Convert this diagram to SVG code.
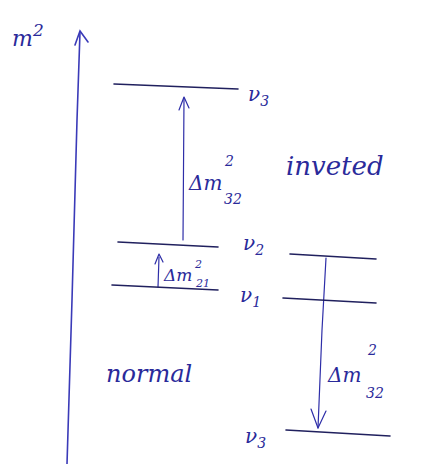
<svg xmlns="http://www.w3.org/2000/svg" width="433" height="464" viewBox="0 0 433 464">
<defs>
<style>
.ax{stroke:#3a3ab8;stroke-width:1.6;fill:none;stroke-linecap:round}
.lv{stroke:#20205e;stroke-width:1.6;fill:none;stroke-linecap:round}
.ar{stroke:#2e2ea8;stroke-width:1.2;fill:none;stroke-linecap:round;stroke-linejoin:round}
.t{font-family:"DejaVu Serif","Liberation Serif",serif;font-style:italic;fill:#2a2a9a}
</style>
</defs>
<rect width="433" height="464" fill="#ffffff"/>
<g id="connectors">
<path class="ax" d="M80,32 L77,120 L72,300 L67,464"/>
<path class="ax" d="M75,45 L80,31 L88,42"/>
<path class="ar" d="M183,240 L184,98"/>
<path class="ar" d="M179,110 L184,97 L189,108"/>
<path class="ar" d="M158,287 L159,257"/>
<path class="ar" d="M155,264 L159,254 L163,262"/>
<path class="ar" d="M326,258 L322,330 L318,428"/>
<path class="ar" d="M311,409 L318,428 L326,411"/>
</g>
<g id="axis-label"><text class="t" x="12" y="46" font-size="22">m<tspan dy="-10" font-size="17">2</tspan></text></g>
<g id="nu3-top">
<path class="lv" d="M114,84 L238,89"/>
<text class="t" x="248" y="101" font-size="20">ν<tspan dy="5" font-size="14">3</tspan></text>
</g>
<g id="dm32-normal-label"><text class="t" x="189" y="190" font-size="20">Δm<tspan x="225" y="166" font-size="14">2</tspan><tspan x="224" y="204" font-size="14">32</tspan></text></g>
<g id="inverted-label"><text class="t" x="286" y="175" font-size="26">inveted</text></g>
<g id="nu2-normal">
<path class="lv" d="M118,242 L218,247"/>
<text class="t" x="243" y="250" font-size="20">ν<tspan dy="5" font-size="14">2</tspan></text>
</g>
<g id="dm21-label"><text class="t" x="164" y="281" font-size="17">Δm<tspan x="195" y="268" font-size="11">2</tspan><tspan x="196" y="287" font-size="11">21</tspan></text></g>
<g id="nu1-normal">
<path class="lv" d="M112,285 L218,290"/>
<text class="t" x="240" y="302" font-size="20">ν<tspan dy="5" font-size="14">1</tspan></text>
</g>
<g id="nu2-inverted"><path class="lv" d="M290,254 L376,259"/></g>
<g id="nu1-inverted"><path class="lv" d="M283,298 L376,303"/></g>
<g id="dm32-inverted-label"><text class="t" x="328" y="382" font-size="20">Δm<tspan x="368" y="355" font-size="14">2</tspan><tspan x="366" y="398" font-size="14">32</tspan></text></g>
<g id="nu3-bottom">
<path class="lv" d="M286,430 L390,436"/>
<text class="t" x="245" y="443" font-size="20">ν<tspan dy="5" font-size="14">3</tspan></text>
</g>
<g id="normal-label"><text class="t" x="106" y="382" font-size="24">normal</text></g>
</svg>
